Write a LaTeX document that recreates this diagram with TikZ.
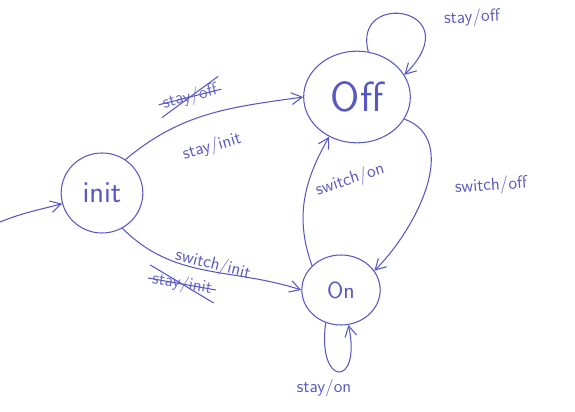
\documentclass[tikz,border=0pt]{standalone}
\usepackage{tikz}
\usetikzlibrary{arrows.meta,shapes.geometric}
\definecolor{ink}{RGB}{88,88,196}

\begin{document}
\begin{tikzpicture}[x=0.03cm, y=0.03cm, ink, line width=0.9pt,
		state/.style={draw, ellipse, inner sep=0pt},
		trans/.style={-{Straight Barb[length=9pt, width=10pt]}},
		lbl/.style={font=\sffamily\fontsize{15}{17}\selectfont},
		struck/.style={lbl, opacity=0.9}]
			\useasboundingbox (0, 0) rectangle (575, 412);
			
			\node[state, minimum width=2.45cm, minimum height=2.4cm, font=\sffamily\fontsize{26}{30}\selectfont] (init) at (102, 219) {init};
			\node[state, minimum width=3.2cm, minimum height=2.75cm, font=\sffamily\fontsize{36}{40}\selectfont] (off) at (357, 315) {Off};
			\node[state, minimum width=2.35cm, minimum height=2.1cm, font=\sffamily\fontsize{20}{24}\selectfont] (on) at (341, 122) {On};
			\coordinate (start) at (0, 190);
			
			\draw[trans] (start) to[out=22, in=195] (init);
			\draw[trans] (init.55) to[out=40, in=188] (off.west);
			\draw[trans] (init.-60) to[out=-45, in=162] (on.west);
			\draw[trans] (on.140) to[out=110, in=240] (off.235);
			\draw[trans] (off.-25) to[out=-20, in=45] (on.30);
			\draw[trans] (off.76) .. controls +(105:65) and +(45:95) .. (off.25);
			\draw[trans] (on.245) .. controls +(262:65) and +(282:65) .. (on.-78);
			
			\node[lbl, rotate=16] (initoff) at (212, 265) {stay/init};
			\node[struck, rotate=14] (oldoff) at (190, 315) {stay/off};
			\node[lbl, rotate=-14] (initon) at (213, 147) {switch/init};
			\node[struck, rotate=-10] (oldon) at (182, 128) {stay/init};
			\node[lbl, rotate=18] (onoff) at (350, 232) {switch/on};
			\node[lbl, rotate=4] (offon) at (491, 226) {switch/off};
			\node[lbl, rotate=3] (offloop) at (472, 394) {stay/off};
			\node[lbl] (onloop) at (324, 24) {stay/on};
			
			% scribbled out labels
			\draw (oldoff.west) -- (oldoff.east);
			\draw (oldoff.south west) -- (oldoff.north east);
			\draw (oldon.west) -- (oldon.east);
			\draw (oldon.north west) -- (oldon.south east);
		\end{tikzpicture}
\end{document}
